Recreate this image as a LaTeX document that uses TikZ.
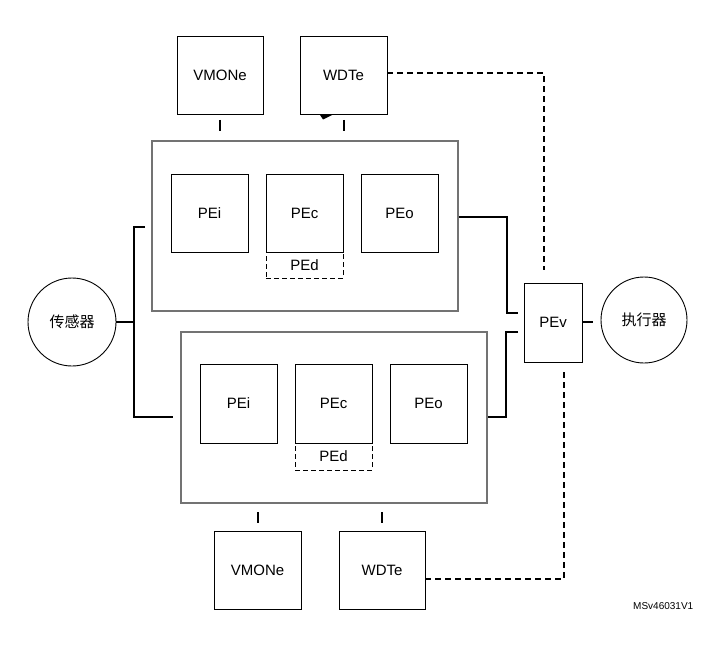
\documentclass[tikz,border=0pt]{standalone}
\usepackage{fontspec}
\setmainfont{Liberation Sans}
\newfontfamily\cjk{Noto Sans CJK SC}
\begin{document}
\begin{tikzpicture}[x=1pt,y=-1pt,
  box/.style={draw=black,line width=0.9pt,fill=white,inner sep=0pt,font=\fontsize{15}{17}\selectfont},
  bigbox/.style={draw=black!55,line width=1.6pt,inner sep=0pt},
  dbox/.style={draw=black,dash pattern=on 5pt off 3pt,line width=0.9pt,inner sep=0pt,font=\fontsize{15}{17}\selectfont},
  circ/.style={draw=black,line width=0.9pt,circle,inner sep=0pt,minimum size=88pt,font=\cjk\fontsize{15}{17}\selectfont},
  conn/.style={line width=1.8pt,black},
  dconn/.style={line width=1.8pt,black,dash pattern=on 6pt off 4pt},
  tick/.style={line width=2pt,black}]
\useasboundingbox (0,0) rectangle (711,652);
% top group
\node[box,minimum width=86pt,minimum height=78pt] (vt) at (220,75) {VMONe};
\node[box,minimum width=87pt,minimum height=78pt] (wt) at (343.5,75) {WDTe};
\node[bigbox,minimum width=306pt,minimum height=170pt] (bt) at (305,226) {};
\node[box,minimum width=77pt,minimum height=78pt] (pit) at (209.5,213) {PEi};
\node[box,minimum width=77pt,minimum height=78pt] (pct) at (304.5,213) {PEc};
\node[dbox,minimum width=77pt,minimum height=26pt] (pdt) at (304.5,265) {PEd};
\node[box,minimum width=77pt,minimum height=78pt] (pot) at (399.5,213) {PEo};
\draw[tick] (220,120) -- (220,131);
\draw[tick] (344,120) -- (344,131);
\fill (320,115) -- (332,115) -- (323,119.5) -- cycle;
% bottom group
\node[bigbox,minimum width=306pt,minimum height=171pt] (bb) at (334,417.5) {};
\node[box,minimum width=77pt,minimum height=79pt] (pib) at (238.5,403.5) {PEi};
\node[box,minimum width=77pt,minimum height=79pt] (pcb) at (333.5,403.5) {PEc};
\node[dbox,minimum width=77pt,minimum height=27pt] (pdb) at (333.5,456.5) {PEd};
\node[box,minimum width=77pt,minimum height=79pt] (pob) at (428.5,403.5) {PEo};
\node[box,minimum width=87pt,minimum height=78pt] (vb) at (257.5,570) {VMONe};
\node[box,minimum width=86pt,minimum height=78pt] (wb) at (382,570) {WDTe};
\draw[tick] (258,512) -- (258,523);
\draw[tick] (382,512) -- (382,523);
% sensor / actuator / PEv
\node[circ] (sen) at (72,322) {传感器};
\node[circ,minimum size=86pt] (act) at (644,320) {执行器};
\node[box,minimum width=58pt,minimum height=79pt] (pev) at (553,322.5) {PEv};
% connectors
\coordinate (sj) at (134,322);
\draw[conn] (sen.east) -- (sj);
\draw[conn] (145,227) -- (134,227) -- (134,417) -- (173,417);
\draw[conn] (bt.east |- 0,217) -- (507,217) -- (507,313) -- (518,313);
\draw[conn] (518,332) -- (506,332) -- (506,417) -- (bb.east |- 0,417);
\draw[conn] (pev.east |- 0,322) -- (593,322);
% dashed
\draw[dconn] (wt.east |- 0,73) -- (544,73) -- (544,270);
\draw[dconn] (wb.east |- 0,579) -- (564,579) -- (564,372);
\node[font=\fontsize{10}{12}\selectfont,anchor=west,inner sep=0pt] (ms) at (633,606) {MSv46031V1};
\end{tikzpicture}
\end{document}
